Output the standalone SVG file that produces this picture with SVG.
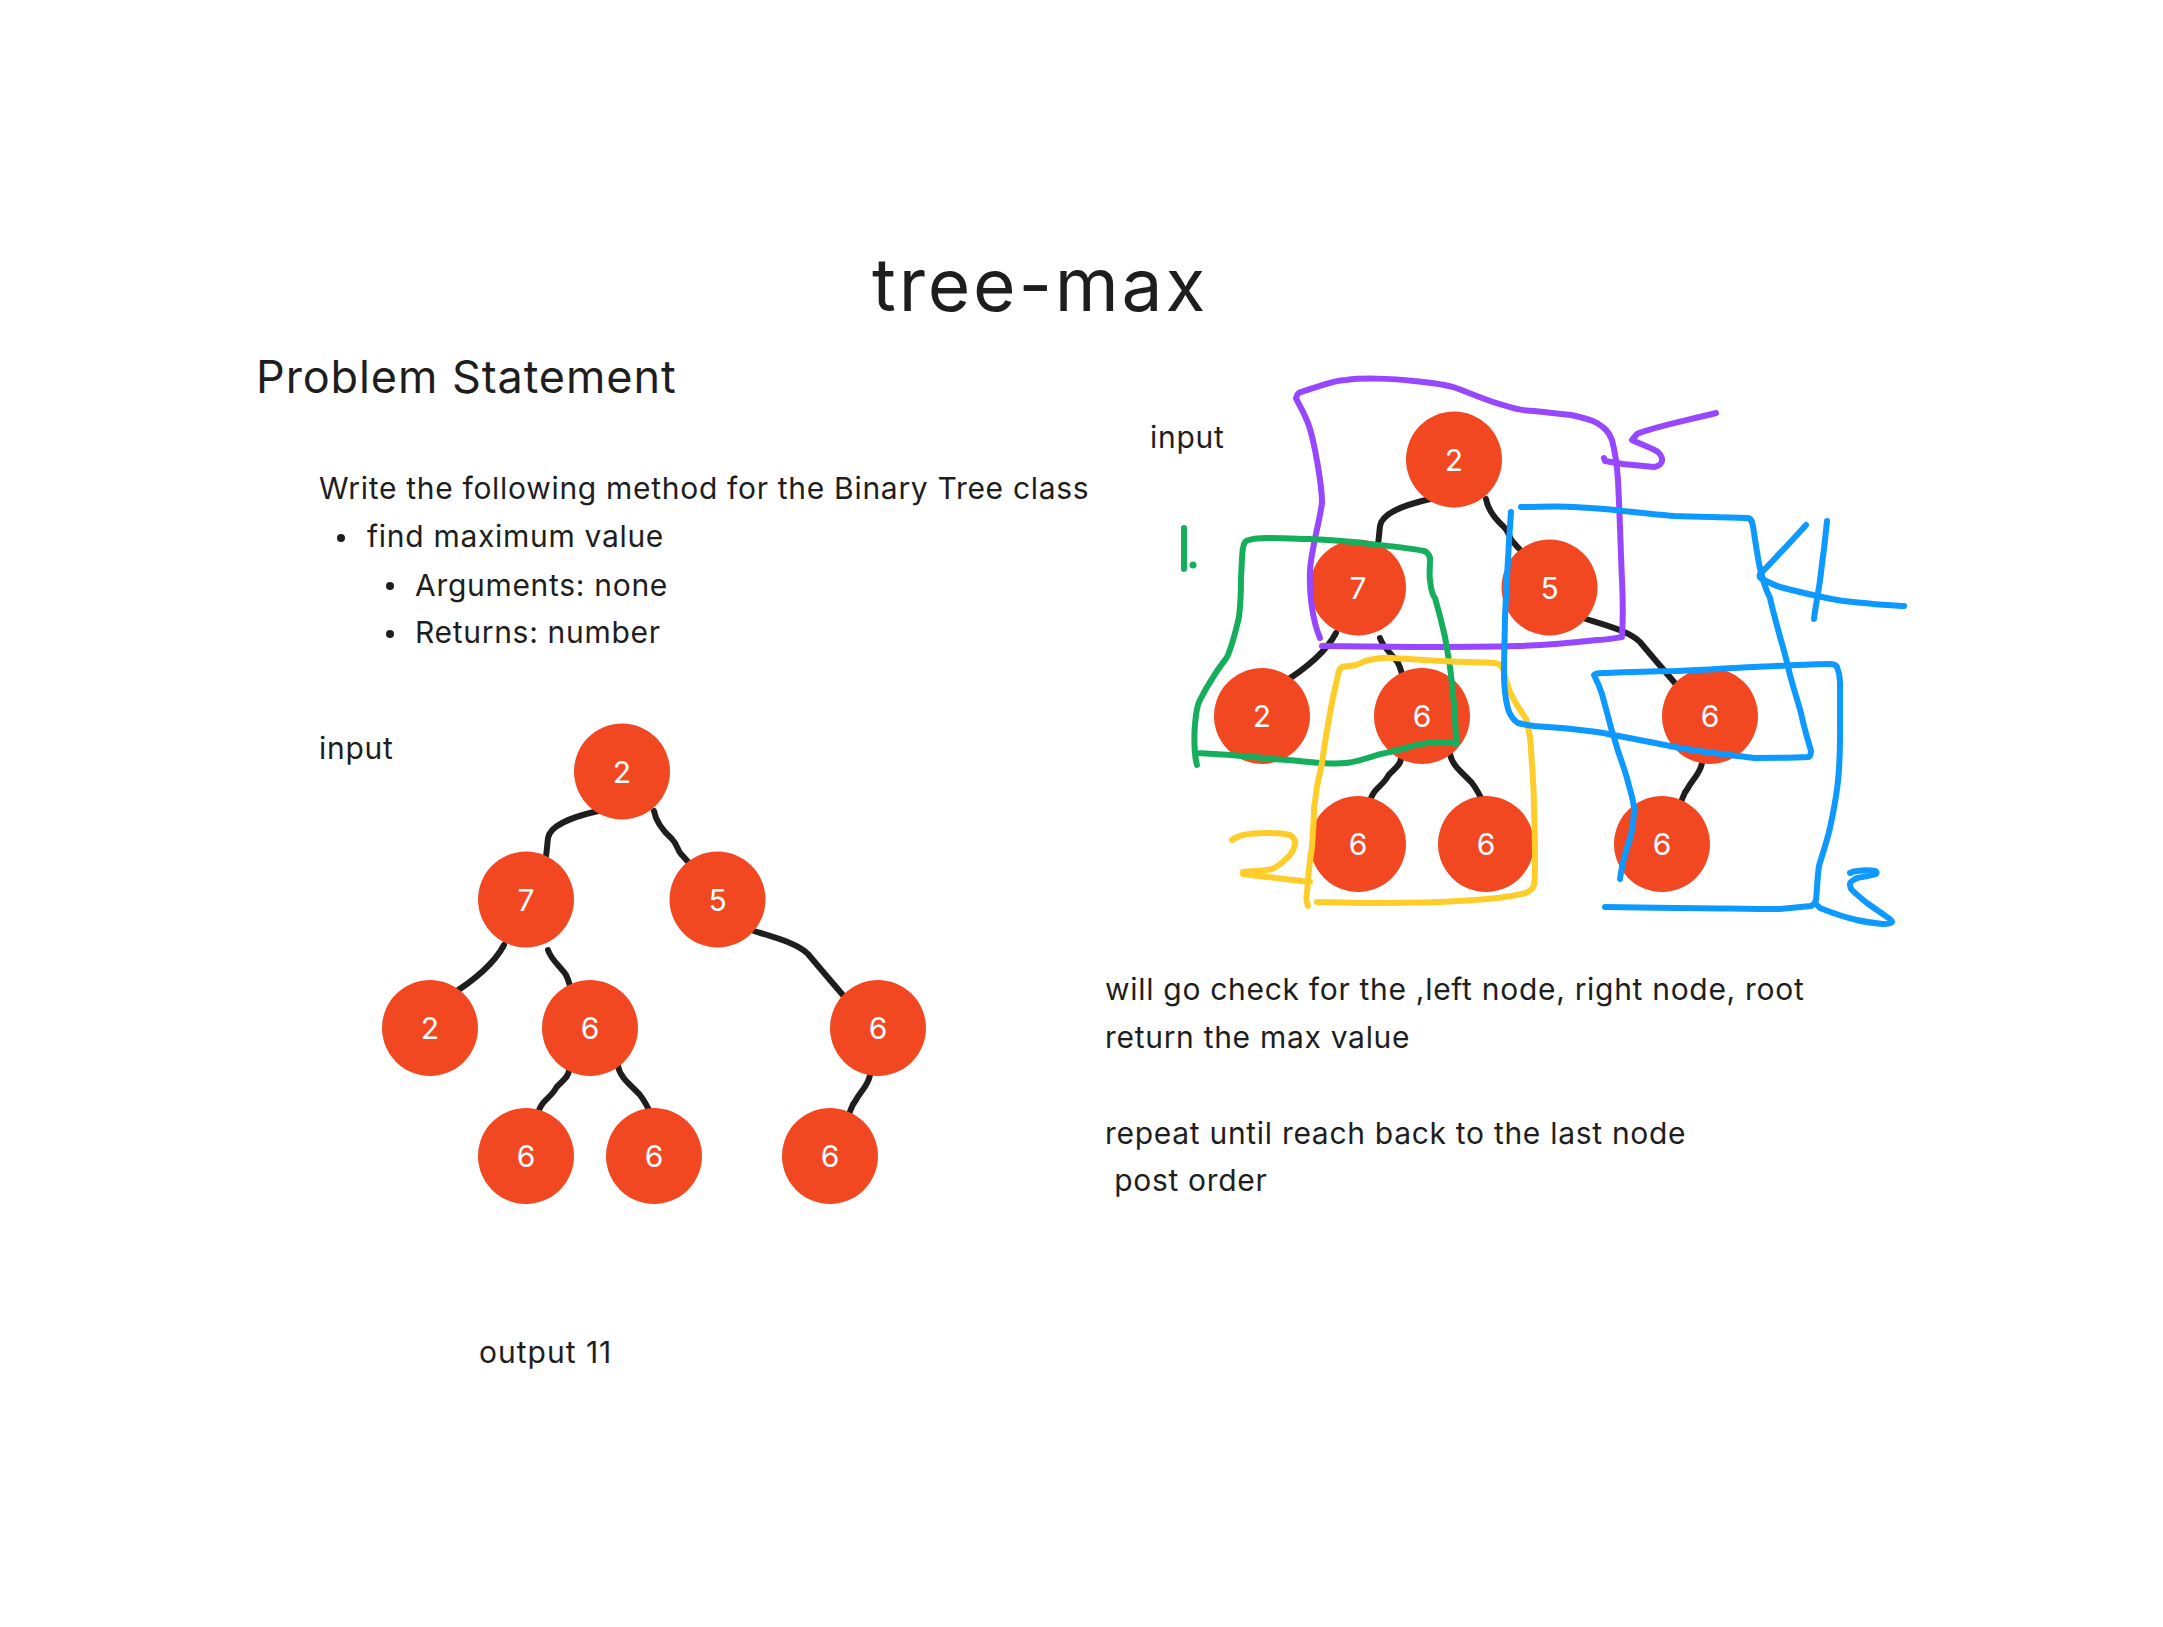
<svg xmlns="http://www.w3.org/2000/svg" width="2163" height="1627" viewBox="0 0 2163 1627">
<style>
.t{font-family:Inter,"Noto Sans","Liberation Sans",sans-serif;fill:#1e1e1e;letter-spacing:0.7px}
.n circle{fill:#f24822}
.n text{font-family:Inter,"Noto Sans","Liberation Sans",sans-serif;font-size:30px;fill:#ffffff;text-anchor:middle}
.c path{fill:none;stroke:#1e1e1e;stroke-width:6;stroke-linecap:round;stroke-linejoin:round}
.a{fill:none;stroke-width:6;stroke-linecap:round;stroke-linejoin:round}
</style>
<rect width="2163" height="1627" fill="#ffffff"/>
<text class="t" x="872" y="311" font-size="73" style="letter-spacing:2.8px">tree-max</text>
<text class="t" x="256" y="393" font-size="45" style="letter-spacing:0.9px">Problem Statement</text>
<text class="t" x="319" y="499" font-size="30">Write the following method for the Binary Tree class</text>
<circle cx="341" cy="538" r="4" fill="#1e1e1e"/>
<text class="t" x="367" y="547" font-size="30">find maximum value</text>
<circle cx="390" cy="586" r="4" fill="#1e1e1e"/>
<text class="t" x="415" y="596" font-size="30">Arguments: none</text>
<circle cx="390" cy="634" r="4" fill="#1e1e1e"/>
<text class="t" x="415" y="643" font-size="30">Returns: number</text>
<text class="t" x="319" y="759" font-size="30">input</text>
<text class="t" x="1150" y="448" font-size="30">input</text>
<text class="t" x="1105" y="1000" font-size="30">will go check for the ,left node, right node, root</text>
<text class="t" x="1105" y="1048" font-size="30">return the max value</text>
<text class="t" x="1105" y="1144" font-size="30">repeat until reach back to the last node</text>
<text class="t" x="1105" y="1191" font-size="30" xml:space="preserve"> post order</text>
<text class="t" x="479" y="1363" font-size="30" style="letter-spacing:1px">output 11</text>

<g id="connectors" class="c">
<g id="left-edges">
<path d="M598,811 C568,818 550,826 548,838 C547,846 547,850 546,856"/>
<path d="M654,811 C656,822 662,830 672,839 C678,845 677,850 681,854 L691,865"/>
<path d="M504,945 C495,962 475,980 449,996"/>
<path d="M548,950 C551,960 562,968 566,975 C570,982 570,990 574,995"/>
<path d="M754,931 C780,939 798,944 808,954 C818,966 830,980 842,994 C849,1002 853,1008 857,1014"/>
<path d="M569,1070 C569,1078 560,1082 556,1088 C552,1096 544,1100 541,1106 L538,1112"/>
<path d="M618,1066 C620,1078 632,1086 640,1095 C647,1104 652,1116 657,1126"/>
<path d="M870,1075 C868,1086 860,1092 856,1100 C851,1106 851,1110 849,1114"/>
</g>
<g id="right-edges" transform="translate(832,-312)">
<path d="M598,811 C568,818 550,826 548,838 C547,846 547,850 546,856"/>
<path d="M654,811 C656,822 662,830 672,839 C678,845 677,850 681,854 L691,865"/>
<path d="M504,945 C495,962 475,980 449,996"/>
<path d="M548,950 C551,960 562,968 566,975 C570,982 570,990 574,995"/>
<path d="M754,931 C780,939 798,944 808,954 C818,966 830,980 842,994 C849,1002 853,1008 857,1014"/>
<path d="M569,1070 C569,1078 560,1082 556,1088 C552,1096 544,1100 541,1106 L538,1112"/>
<path d="M618,1066 C620,1078 632,1086 640,1095 C647,1104 652,1116 657,1126"/>
<path d="M870,1075 C868,1086 860,1092 856,1100 C851,1106 851,1110 849,1114"/>
</g>
</g>

<g id="L-root" class="n"><circle cx="622" cy="771.5" r="48"/><text x="622" y="782.5">2</text></g>
<g id="L-7" class="n"><circle cx="526" cy="899.5" r="48"/><text x="526" y="910.5">7</text></g>
<g id="L-5" class="n"><circle cx="717.5" cy="899.5" r="48"/><text x="717.5" y="910.5">5</text></g>
<g id="L-2b" class="n"><circle cx="430" cy="1028" r="48"/><text x="430" y="1039">2</text></g>
<g id="L-6a" class="n"><circle cx="590" cy="1028" r="48"/><text x="590" y="1039">6</text></g>
<g id="L-6b" class="n"><circle cx="878" cy="1028" r="48"/><text x="878" y="1039">6</text></g>
<g id="L-6c" class="n"><circle cx="526" cy="1156" r="48"/><text x="526" y="1167">6</text></g>
<g id="L-6d" class="n"><circle cx="654" cy="1156" r="48"/><text x="654" y="1167">6</text></g>
<g id="L-6e" class="n"><circle cx="830" cy="1156" r="48"/><text x="830" y="1167">6</text></g>

<g id="R-root" class="n"><circle cx="1454" cy="459.5" r="48"/><text x="1454" y="470.5">2</text></g>
<g id="R-7" class="n"><circle cx="1358" cy="587.5" r="48"/><text x="1358" y="598.5">7</text></g>
<g id="R-5" class="n"><circle cx="1549.5" cy="587.5" r="48"/><text x="1549.5" y="598.5">5</text></g>
<g id="R-2b" class="n"><circle cx="1262" cy="716" r="48"/><text x="1262" y="727">2</text></g>
<g id="R-6a" class="n"><circle cx="1422" cy="716" r="48"/><text x="1422" y="727">6</text></g>
<g id="R-6b" class="n"><circle cx="1710" cy="716" r="48"/><text x="1710" y="727">6</text></g>
<g id="R-6c" class="n"><circle cx="1358" cy="844" r="48"/><text x="1358" y="855">6</text></g>
<g id="R-6d" class="n"><circle cx="1486" cy="844" r="48"/><text x="1486" y="855">6</text></g>
<g id="R-6e" class="n"><circle cx="1662" cy="844" r="48"/><text x="1662" y="855">6</text></g>

<g id="annotations">
<path class="a" stroke="#9747ff" d="M1320,638 C1312,620 1309,590 1310,571 C1311,550 1320,520 1322,503 C1322,485 1314,440 1309,426 C1305,414 1299,405 1296,398 C1297,393 1300,392 1304,391 C1320,386 1335,380 1346,380 C1360,378 1390,378 1414,381 C1435,383 1450,386 1456,388 C1475,395 1490,402 1503,405 C1515,409 1525,411 1534,411 C1550,413 1565,414 1571,415 C1585,418 1592,420 1597,423 C1605,428 1609,432 1612,440 C1616,455 1617,465 1618,480 C1620,520 1621,560 1622,580 C1623,600 1623,620 1622,637 C1610,639 1605,640 1597,640 C1570,643 1550,645 1518,646 C1480,647 1450,647 1414,647 L1322,646"/>
<path class="a" stroke="#9747ff" d="M1716,413 C1680,422 1650,428 1637,434 L1632,440 C1640,444 1652,448 1658,452 C1664,458 1664,465 1654,467 L1623,464 L1605,461 L1604,458"/>
<path class="a" stroke="#14ae5c" d="M1197,765 C1194,755 1194,735 1195,724 C1196,712 1197,705 1200,700 C1205,690 1208,685 1212,679 C1220,665 1226,660 1228,655 C1234,640 1237,625 1239,617 C1241,600 1241,590 1241,579 C1242,560 1242,552 1243,548 C1244,542 1246,540 1249,540 C1255,538 1260,538 1267,538 C1290,538 1300,539 1309,539 C1330,540 1345,541 1361,543 C1390,546 1410,548 1424,551 C1428,552 1429,555 1430,558 C1430,570 1429,575 1430,580 C1431,590 1432,595 1435,598 C1440,615 1443,628 1445,637 C1448,655 1450,665 1451,675 C1453,695 1454,705 1455,713 C1455,725 1456,735 1456,744 C1450,742 1445,742 1440,742 C1425,743 1415,745 1409,747 C1395,751 1385,753 1377,755 C1365,759 1355,762 1346,763 C1335,764 1325,763 1320,763 C1300,761 1285,760 1273,759 C1255,757 1240,756 1231,755 L1197,753"/>
<path class="a" stroke="#14ae5c" d="M1184,528 L1184,569"/>
<circle cx="1193" cy="565" r="3.5" fill="#14ae5c"/>
<path class="a" stroke="#ffcd29" d="M1308,906 C1306,900 1306,896 1307,893 C1308,875 1310,860 1312,847 C1313,830 1314,820 1314,808 C1316,790 1319,775 1322,763 C1325,740 1328,725 1330,713 C1333,695 1336,685 1338,675 C1339,670 1340,668 1342,667 C1348,666 1352,666 1356,665 C1362,663 1366,660 1369,660 C1378,658 1385,657 1393,658 C1410,659 1425,660 1440,661 C1460,662 1480,662 1495,663 C1500,664 1502,666 1503,669 C1506,680 1508,688 1511,694 C1516,705 1522,712 1526,719 C1529,730 1531,740 1531,751 C1533,775 1534,790 1534,808 C1535,830 1535,850 1535,866 C1535,875 1535,880 1534,885 C1532,890 1530,891 1526,893 C1515,896 1505,897 1497,898 C1480,900 1460,901 1440,902 C1410,903 1385,903 1362,903 L1317,902"/>
<path class="a" stroke="#ffcd29" d="M1232,840 C1236,837 1240,836 1243,835 C1252,833 1258,833 1267,833 C1278,833 1286,834 1290,835 C1294,838 1296,842 1295,845 C1293,851 1291,855 1287,858 C1282,863 1277,867 1272,869 C1265,871 1255,871 1243,872 L1243,874 C1250,875 1258,876 1267,877 L1310,882"/>
<path class="a" stroke="#0d99ff" d="M1521,507 C1540,507 1555,506 1571,507 C1590,508 1610,509 1623,511 C1645,513 1660,515 1675,516 C1700,517 1730,517 1748,518 C1752,519 1752,522 1753,526 C1755,540 1757,552 1759,564 C1762,578 1766,590 1770,598 C1773,612 1777,625 1780,637 C1784,650 1787,662 1790,675 C1794,690 1798,702 1801,713 C1804,728 1808,740 1811,751 C1811,754 1810,756 1809,757 C1790,758 1770,758 1754,758 C1730,755 1700,752 1675,747 C1650,742 1620,736 1597,732 C1575,729 1550,727 1534,726 C1527,725 1522,724 1518,723 C1513,720 1510,715 1508,709 C1505,697 1504,685 1504,675 C1504,650 1505,630 1505,617 C1506,595 1507,575 1508,560 C1509,540 1510,525 1511,512"/>
<path class="a" stroke="#0d99ff" d="M1620,879 C1621,872 1622,867 1623,862 C1626,850 1629,842 1631,835 C1633,825 1634,815 1634,808 C1633,798 1630,790 1628,782 C1625,770 1621,760 1618,751 C1615,740 1612,732 1610,724 C1607,712 1604,702 1602,694 C1599,685 1596,679 1594,675 C1596,673 1599,673 1602,673 C1630,672 1655,671 1675,671 C1700,670 1730,668 1754,667 C1780,666 1810,664 1830,664 C1834,664 1836,665 1837,667 C1839,672 1840,677 1840,682 C1840,700 1840,715 1840,732 C1840,755 1839,775 1837,789 C1835,805 1832,818 1830,828 C1826,845 1822,855 1819,866 C1817,880 1817,892 1816,900 C1815,904 1813,905 1811,906 C1800,907 1790,908 1780,909 C1745,909 1710,908 1675,908 L1605,907"/>
<path class="a" stroke="#0d99ff" d="M1806,525 C1797,535 1788,545 1780,553 C1772,562 1765,569 1760,574 C1759,577 1760,578 1762,579 C1768,582 1774,585 1780,587 C1795,591 1808,594 1822,597 C1835,600 1850,602 1864,603 C1880,605 1893,605 1904,606"/>
<path class="a" stroke="#0d99ff" d="M1827,521 C1826,530 1825,540 1824,549 C1822,562 1821,575 1819,587 C1817,600 1815,610 1814,619"/>
<path class="a" stroke="#0d99ff" d="M1850,873 C1852,872 1854,871 1857,871 C1863,870 1870,870 1875,871 C1877,872 1877,873 1876,874 C1870,876 1862,877 1857,878 C1853,880 1850,882 1850,884 C1850,887 1851,889 1852,890 C1857,895 1862,899 1867,903 C1874,908 1880,912 1887,917 C1890,919 1892,920 1892,922 C1890,924 1887,924 1883,924 C1873,923 1865,922 1857,920 C1843,917 1830,912 1820,908 L1817,905"/>
</g>
</svg>
